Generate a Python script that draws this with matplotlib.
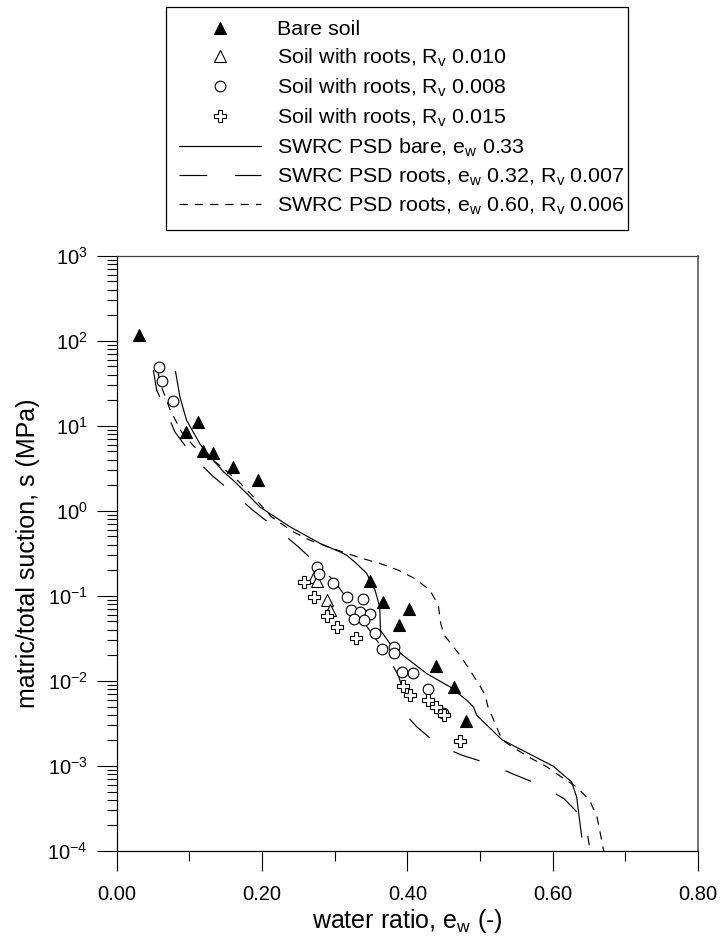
import numpy as np
import matplotlib
matplotlib.use("Agg")
import matplotlib.pyplot as plt
from matplotlib.ticker import LogLocator, NullFormatter, FixedLocator, FormatStrFormatter

plt.rcParams['font.family'] = ['Liberation Sans', 'DejaVu Sans']
plt.rcParams['mathtext.default'] = 'regular'
plt.rcParams['lines.scale_dashes'] = False

# ---- data ----
bare_x = [0.031, 0.112, 0.096, 0.119, 0.133, 0.160, 0.194, 0.348, 0.366, 0.402, 0.388, 0.439, 0.464, 0.481]
bare_s = [117, 11.0, 8.5, 5.04, 4.8, 3.3, 2.3, 0.149, 0.0836, 0.0703, 0.0449, 0.015, 0.0085, 0.00336]

r010_x = [0.2715, 0.276, 0.289, 0.2936]
r010_s = [0.165, 0.150, 0.089, 0.069]

r008_x = [0.058, 0.062, 0.078, 0.276, 0.279, 0.298, 0.317, 0.339, 0.322, 0.335, 0.349, 0.326, 0.340,
          0.3555, 0.3647, 0.381, 0.381, 0.392, 0.408, 0.429, 0.449]
r008_s = [49.5, 33.8, 19.7, 0.219, 0.18, 0.14, 0.097, 0.091, 0.068, 0.065, 0.061, 0.053, 0.052,
          0.0363, 0.024, 0.0251, 0.0214, 0.0128, 0.0124, 0.0081, 0.0042]

r015_x = [0.258, 0.2715, 0.290, 0.303, 0.329, 0.394, 0.404, 0.429, 0.440, 0.450, 0.473]
r015_s = [0.146, 0.097, 0.058, 0.043, 0.0316, 0.0087, 0.0068, 0.006, 0.0049, 0.0040, 0.00197]

bare_curve_x = [0.081, 0.087, 0.096, 0.115, 0.133, 0.147, 0.160, 0.179, 0.197, 0.2385, 0.280, 0.307,
                0.3165, 0.330, 0.344, 0.3555, 0.362, 0.363, 0.376, 0.394, 0.4266, 0.4587, 0.4817,
                0.491, 0.4955, 0.53, 0.601, 0.626, 0.633, 0.640]
bare_curve_s = [43.2, 21.9, 11.7, 6.03, 3.94, 2.88, 2.30, 1.60, 1.11, 0.649, 0.413, 0.330,
                0.301, 0.240, 0.184, 0.117, 0.0743, 0.0394, 0.0275, 0.0200, 0.0122, 0.00851, 0.00593,
                0.00494, 0.00394, 0.00204, 0.000991, 0.000649, 0.000432, 0.000146]

roots1_curve_x = [0.0504, 0.055, 0.0665, 0.080, 0.1054, 0.1307, 0.1605, 0.190, 0.2224, 0.25, 0.2798,
                  0.3004, 0.369, 0.3875, 0.399, 0.4005, 0.413, 0.443, 0.475, 0.514, 0.547, 0.5835,
                  0.6156, 0.6445, 0.6504]
roots1_curve_s = [45.2, 26.3, 16.0, 8.49, 4.32, 2.63, 1.60, 0.975, 0.593, 0.377, 0.219,
                  0.146, 0.0221, 0.0117, 0.00566, 0.00378, 0.00288, 0.00175, 0.00134, 0.00105, 0.000794, 0.000593,
                  0.000413, 0.000229, 0.000117]

roots2_curve_x = [0.057, 0.062, 0.073, 0.089, 0.106, 0.14, 0.167, 0.186, 0.213, 0.243, 0.266, 0.291,
                  0.314, 0.3385, 0.365, 0.388, 0.41, 0.431, 0.4426, 0.446, 0.4505, 0.4564, 0.4725,
                  0.486, 0.5, 0.507, 0.511, 0.52, 0.53, 0.548, 0.571, 0.592, 0.612, 0.633, 0.651,
                  0.661, 0.6665, 0.671]
roots2_curve_s = [41.7, 28.2, 15.8, 8.51, 5.75, 3.52, 2.25, 1.53, 0.849, 0.566, 0.452, 0.377,
                  0.321, 0.275, 0.236, 0.200, 0.160, 0.117, 0.0776, 0.0473, 0.0345, 0.0301, 0.0200,
                  0.0134, 0.00871, 0.00679, 0.00494, 0.00330, 0.00204, 0.00160, 0.00122, 0.000977,
                  0.000741, 0.000566, 0.000394, 0.000251, 0.000146, 0.0000933]

x_ticks = [0.0, 0.2, 0.4, 0.6, 0.8]
x_minor_ticks = [0.1, 0.3, 0.5, 0.7]

# ---- figure ----
fig = plt.figure(figsize=(7.21, 9.47), dpi=100)
W, H = 721, 947
L, R, T, B = 116.7, 698, 255.7, 851
ax = fig.add_axes([L / W, (H - B) / H, (R - L) / W, (B - T) / H])

lw = 0.85
l1, = ax.plot(bare_curve_x, bare_curve_s, color='black', lw=lw, linestyle='-',
              label=r'SWRC PSD bare, e$_{w}$ 0.33')
l2, = ax.plot(roots1_curve_x, roots1_curve_s, color='black', lw=lw, linestyle=(0, (20, 20)),
              label=r'SWRC PSD roots, e$_{w}$ 0.32, R$_{v}$ 0.007')
l3, = ax.plot(roots2_curve_x, roots2_curve_s, color='black', lw=lw, linestyle=(0, (6, 5)),
              label=r'SWRC PSD roots, e$_{w}$ 0.60, R$_{v}$ 0.006')

m1, = ax.plot(bare_x, bare_s, linestyle='none', marker='^', ms=8.5, mfc='black', mec='black',
              mew=0.8, label='Bare soil')
m2, = ax.plot(r010_x, r010_s, linestyle='none', marker='^', ms=8.5, mfc='white', mec='black',
              mew=0.8, label=r'Soil with roots, R$_{v}$ 0.010')
m3, = ax.plot(r008_x, r008_s, linestyle='none', marker='o', ms=7.7, mfc='white', mec='black',
              mew=0.8, label=r'Soil with roots, R$_{v}$ 0.008')
m4, = ax.plot(r015_x, r015_s, linestyle='none', marker='P', ms=9, mfc='white', mec='black',
              mew=0.8, label=r'Soil with roots, R$_{v}$ 0.015')

ax.set_yscale('log')
ax.set_xlim(0, 0.8)
ax.set_ylim(1e-4, 1e3)
ax.xaxis.set_major_locator(FixedLocator(x_ticks))
ax.xaxis.set_minor_locator(FixedLocator(x_minor_ticks))
ax.xaxis.set_major_formatter(FormatStrFormatter('%.2f'))
ax.yaxis.set_major_locator(LogLocator(base=10, numticks=20))
ax.yaxis.set_minor_locator(LogLocator(base=10, subs=np.arange(2, 10), numticks=100))
ax.yaxis.set_minor_formatter(NullFormatter())

ax.tick_params(which='major', direction='out', length=14.4, width=0.8, labelsize=14.5,
               top=False, right=False)
ax.tick_params(axis='x', which='major', pad=10)
ax.tick_params(axis='y', which='major', pad=6.5)
ax.tick_params(which='minor', direction='out', length=7.2, width=0.8, top=False, right=False)
for sp in ax.spines.values():
    sp.set_linewidth(0.9)
ax.spines['right'].set_color('0.45')
ax.spines['right'].set_linewidth(1.4)
ax.spines['top'].set_color('0.25')

ax.set_xlabel(r'water ratio, e$_{w}$ (-)', fontsize=18, labelpad=2)
ax.set_ylabel('matric/total suction, s (MPa)', fontsize=18, labelpad=5)

handles = [m1, m2, m3, m4, l1, l2, l3]
top = (H - 7.3) / H
leg = fig.legend(handles=handles, labels=[h.get_label() for h in handles],
                 loc='upper left', bbox_to_anchor=(166 / W, top - 0.01, (628 - 166) / W, 0.01),
                 mode='expand', borderaxespad=0, fontsize=15.4, handlelength=3.85,
                 handletextpad=0.75, labelspacing=0.36, borderpad=0.6, frameon=True,
                 fancybox=False, edgecolor='black', framealpha=1)
leg.get_frame().set_linewidth(0.9)

fig.savefig('out.png', dpi=100)
